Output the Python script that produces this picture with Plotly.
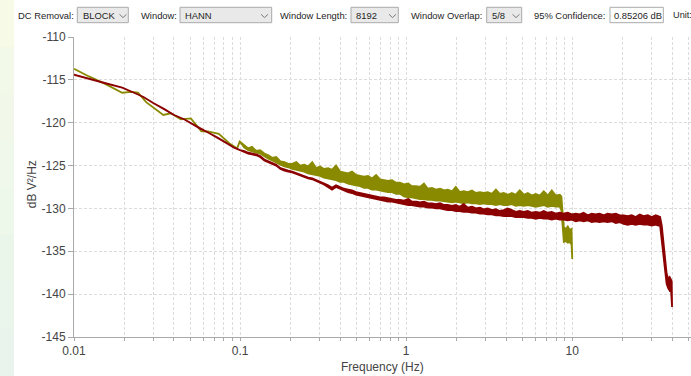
import plotly.graph_objects as go

# ---------------- data ----------------
# shared frequency grid for the noisy part (Hz)
band_freq = [0.106, 0.112, 0.118, 0.125, 0.132, 0.140, 0.148, 0.156, 0.165, 0.175,
             0.185, 0.195, 0.206, 0.218, 0.230, 0.243, 0.257, 0.272, 0.287, 0.303,
             0.320, 0.339, 0.358, 0.378, 0.400, 0.423, 0.447, 0.472, 0.499, 0.528,
             0.558, 0.590, 0.623, 0.659, 0.696, 0.736, 0.778, 0.822, 0.869, 0.918,
             0.970, 1.03, 1.08, 1.15, 1.21, 1.28, 1.35, 1.43, 1.51, 1.60,
             1.69, 1.78, 1.89, 1.99, 2.10, 2.22, 2.35, 2.49, 2.63, 2.78,
             2.93, 3.10, 3.28, 3.47, 3.66, 3.87, 4.09, 4.33, 4.57, 4.83,
             5.11, 5.40, 5.71, 6.03, 6.37, 6.74, 7.12, 7.53, 7.95, 8.41]

# olive series (dB V^2/Hz)
olive_freq_low = [0.0100, 0.0123, 0.0155, 0.0195, 0.0220, 0.0243, 0.0272, 0.0330, 0.0345,
                  0.0383, 0.0440, 0.0505, 0.0585, 0.0640, 0.0745, 0.0860, 0.0960, 0.0995]
olive_db_low = [-113.7, -114.6, -115.5, -116.5, -116.4, -116.5, -117.6, -118.8, -119.1,
                -118.9, -119.6, -119.5, -121.0, -121.0, -121.3, -122.4, -123.0, -122.2]
olive_hi_band = [-122.6, -123.0, -122.8, -123.3, -123.2, -123.6, -123.8, -124.1, -124.0, -124.5,
                 -124.6, -124.8, -124.8, -124.6, -125.0, -124.9, -125.1, -124.6, -125.3, -125.1,
                 -125.4, -125.3, -125.5, -125.0, -125.7, -125.8, -125.9, -125.7, -126.1, -126.2,
                 -126.3, -126.2, -126.5, -126.1, -126.6, -126.7, -126.8, -126.7, -127.0, -127.0,
                 -127.2, -127.1, -127.4, -127.4, -127.5, -127.1, -127.7, -127.6, -127.8, -127.7,
                 -127.9, -127.8, -128.0, -127.5, -128.1, -128.0, -128.1, -127.9, -128.2, -128.1,
                 -128.2, -128.1, -128.3, -127.8, -128.3, -128.2, -128.4, -128.2, -128.4, -127.9,
                 -128.4, -128.2, -128.5, -128.3, -128.5, -128.0, -128.5, -127.9, -128.5, -128.4]
olive_lo_band = [-122.9, -123.2, -123.3, -123.5, -123.6, -123.9, -124.2, -124.4, -124.6, -124.9,
                 -125.1, -125.2, -125.4, -125.5, -125.6, -125.7, -125.9, -126.0, -126.1, -126.2,
                 -126.4, -126.5, -126.6, -126.7, -126.9, -126.9, -127.1, -127.2, -127.3, -127.4,
                 -127.6, -127.6, -127.8, -127.8, -127.9, -128.0, -128.1, -128.1, -128.3, -128.3,
                 -128.6, -128.7, -128.7, -128.8, -128.9, -128.9, -129.0, -129.0, -129.1, -129.1,
                 -129.2, -129.2, -129.3, -129.2, -129.3, -129.4, -129.3, -129.4, -129.4, -129.5,
                 -129.4, -129.5, -129.5, -129.6, -129.5, -129.6, -129.6, -129.5, -129.7, -129.6,
                 -129.7, -129.6, -129.7, -129.8, -129.7, -129.6, -129.8, -129.7, -129.8, -129.8]
olive_freq_tail = [8.60, 8.75, 8.90, 9.15, 9.40, 9.65, 9.90, 10.0]
olive_hi_tail = [-128.6, -130.5, -132.2, -132.4, -132.1, -132.5, -132.4, -135.9]
olive_lo_tail = [-130.2, -132.0, -133.9, -133.8, -134.0, -133.9, -134.2, -135.9]

# dark red series (dB V^2/Hz)
red_freq_low = [0.0100, 0.0125, 0.0155, 0.0195, 0.0230, 0.0262, 0.0300, 0.0350, 0.0400,
                0.0460, 0.0520, 0.0575, 0.0650, 0.0740, 0.0830, 0.0920, 0.1000]
red_db_low = [-114.4, -114.9, -115.4, -115.9, -116.5, -117.0, -117.7, -118.4, -119.1,
              -119.6, -120.2, -120.7, -121.2, -121.8, -122.4, -122.9, -123.2]
red_hi_band = [-123.3, -123.5, -123.6, -123.7, -123.9, -124.3, -124.5, -124.7, -124.9, -125.3,
               -125.5, -125.6, -125.7, -125.9, -126.0, -126.2, -126.4, -126.5, -126.7, -126.9,
               -127.1, -127.3, -127.6, -127.3, -127.5, -127.7, -127.8, -127.9, -128.1, -128.2,
               -128.3, -128.4, -128.5, -128.6, -128.7, -128.7, -128.8, -128.9, -129.0, -129.0,
               -129.1, -128.9, -129.2, -129.2, -129.3, -129.2, -129.4, -129.4, -129.5, -129.4,
               -129.6, -129.6, -129.7, -129.6, -129.8, -129.5, -129.9, -129.8, -130.0, -129.9,
               -130.1, -130.0, -130.2, -130.1, -130.3, -130.2, -130.0, -130.2, -130.4, -130.3,
               -130.4, -130.3, -130.5, -130.4, -130.5, -130.3, -130.5, -130.4, -130.6, -130.5]
red_lo_band = [-123.4, -123.6, -123.7, -123.8, -124.0, -124.4, -124.6, -124.8, -125.0, -125.4,
               -125.6, -125.7, -125.8, -126.0, -126.1, -126.3, -126.5, -126.6, -126.8, -127.0,
               -127.2, -127.5, -127.8, -127.5, -127.7, -127.9, -128.1, -128.2, -128.4, -128.5,
               -128.6, -128.7, -128.8, -128.9, -129.0, -129.1, -129.2, -129.2, -129.3, -129.4,
               -129.5, -129.6, -129.6, -129.7, -129.8, -129.8, -129.9, -129.9, -130.0, -130.0,
               -130.1, -130.2, -130.2, -130.3, -130.3, -130.4, -130.4, -130.5, -130.5, -130.6,
               -130.6, -130.7, -130.7, -130.8, -130.8, -130.9, -130.9, -130.9, -131.0, -131.0,
               -131.0, -131.1, -131.1, -131.2, -131.1, -131.2, -131.2, -131.3, -131.2, -131.3]
red_freq_tail = [8.89, 9.39, 9.93, 10.5, 11.1, 11.7, 12.4, 13.1, 13.8, 14.6,
                 15.5, 16.3, 17.3, 18.3, 19.3, 20.4, 21.6, 22.8, 24.1, 25.5,
                 26.9, 28.5, 30.1, 31.8, 33.0, 33.8, 34.6, 35.4, 36.2, 37.0,
                 37.8, 38.6, 39.3, 39.7, 39.9]
red_hi_tail = [-130.6, -130.5, -130.7, -130.6, -130.7, -130.5, -130.8, -130.6, -130.7, -130.6,
               -130.8, -130.6, -130.7, -130.6, -130.8, -130.8, -130.9, -130.8, -131.0, -130.7,
               -130.9, -130.8, -131.0, -130.8, -130.9, -131.0, -132.0, -133.8, -135.8, -137.6,
               -138.2, -138.0, -138.3, -138.5, -141.5]
red_lo_tail = [-131.3, -131.4, -131.3, -131.5, -131.4, -131.5, -131.4, -131.6, -131.5, -131.6,
               -131.5, -131.6, -131.5, -131.7, -131.6, -131.8, -131.9, -131.8, -131.9, -131.8,
               -131.9, -131.9, -132.0, -131.9, -132.0, -132.0, -133.2, -135.2, -137.0, -138.8,
               -139.3, -139.6, -139.4, -139.6, -141.5]

# axes
x_ticks = [0.01, 0.1, 1, 10]
x_tick_labels = ["0.01", "0.1", "1", "10"]
x_minor_ticks = [0.02, 0.03, 0.04, 0.05, 0.06, 0.07, 0.08, 0.09,
                 0.2, 0.3, 0.4, 0.5, 0.6, 0.7, 0.8, 0.9,
                 2, 3, 4, 5, 6, 7, 8, 9, 20, 30, 40, 50]
y_ticks = [-145, -140, -135, -130, -125, -120, -115, -110]
y_tick_labels = ["-145", "-140", "-135", "-130", "-125", "-120", "-115", "-110"]

# toolbar texts
toolbar_labels = ["DC Removal:", "Window:", "Window Length:", "Window Overlap:", "95% Confidence:", "Unit:"]
toolbar_values = ["BLOCK", "HANN", "8192", "5/8", "0.85206 dB"]

# ---------------- figure ----------------
OLIVE = "#8A8A00"
RED = "#8B0000"
FONT = "Liberation Sans, Arial, sans-serif"

L, T, W, H = 74, 37, 617, 300


def px(x):
    return (x - L) / W


def py(y):
    return (T + H - y) / H


fig = go.Figure()


def add_band(f, hi, lo, color):
    fig.add_trace(go.Scatter(
        x=f + f[::-1], y=hi + lo[::-1], mode="lines", fill="toself",
        fillcolor=color, line=dict(color=color, width=1.8),
        hoverinfo="skip", showlegend=False))


olive_f = olive_freq_low + band_freq + olive_freq_tail
olive_hi = olive_db_low + olive_hi_band + olive_hi_tail
olive_lo = olive_db_low + olive_lo_band + olive_lo_tail
red_f = red_freq_low + band_freq + red_freq_tail
red_hi = red_db_low + red_hi_band + red_hi_tail
red_lo = red_db_low + red_lo_band + red_lo_tail

add_band(olive_f, olive_hi, olive_lo, OLIVE)
add_band(red_f, red_hi, red_lo, RED)

grid = dict(gridcolor="#DCDCDC", gridwidth=1, griddash="3px,2px")
axis_line = dict(showline=True, linecolor="#A9A9A9", linewidth=1, tickcolor="#A9A9A9", zeroline=False)

fig.update_layout(
    width=691, height=376,
    margin=dict(l=L, r=0, t=T, b=376 - T - H, pad=0),
    paper_bgcolor="white", plot_bgcolor="white",
    font=dict(family=FONT, size=12, color="#444444"),
    xaxis=dict(type="log", range=[-2, 1.715], tickmode="array", tickvals=x_ticks,
               ticktext=x_tick_labels, ticks="outside", ticklen=3, showgrid=True,
               minor=dict(tickmode="array", tickvals=x_minor_ticks, ticks="outside", ticklen=3,
                          tickcolor="#A9A9A9", showgrid=True, **grid),
               tickfont=dict(size=12, color="#444444"), **grid, **axis_line),
    yaxis=dict(range=[-145, -110], tickmode="array", tickvals=y_ticks, ticktext=y_tick_labels,
               ticks="outside", ticklen=5, showgrid=True,
               tickfont=dict(size=12, color="#444444"), **grid, **axis_line),
)

shapes = []
annotations = []

# left pale strip
strip_colors = ["#F6FAE7", "#F3F9E8", "#F1F8E9", "#EFF8EA", "#EDF7EA", "#EBF6EB", "#EAF6EC", "#E9F5EC"]
n = len(strip_colors)
for i, c in enumerate(strip_colors):
    shapes.append(dict(type="rect", xref="paper", yref="paper", x0=px(0), x1=px(14),
                       y0=py(376 * (i + 1) / n), y1=py(376 * i / n),
                       fillcolor=c, line=dict(width=0), layer="below"))

# toolbar boxes
boxes = [(77.3, 128.3, "#E9E9E9"), (180, 271.7, "#E9E9E9"), (351, 398.3, "#E9E9E9"),
         (486.7, 521.7, "#E9E9E9"), (610, 663.3, "#FFFFFF")]
for x0, x1, c in boxes:
    shapes.append(dict(type="rect", xref="paper", yref="paper", x0=px(x0), x1=px(x1),
                       y0=py(22.7), y1=py(7.3), fillcolor=c,
                       line=dict(color="#ABABAB", width=1), layer="above"))

# chevrons
for cx0, cx1 in [(119.5, 126.5), (261, 268), (389, 396), (512.5, 519.5)]:
    mid = (cx0 + cx1) / 2
    shapes.append(dict(type="path", xref="paper", yref="paper",
                       path=f"M {px(cx0)},{py(14.3)} L {px(mid)},{py(17.6)} L {px(cx1)},{py(14.3)}",
                       line=dict(color="#7A7A7A", width=1), layer="above"))

label_x = [16, 138.5, 277.5, 408.5, 531.5, 671]
label_size = [9.4, 9.4, 9.4, 9.4, 9.4, 9.2]
value_x = [80.5, 182.5, 354, 489.5, 612]
for t, x, s in zip(toolbar_labels, label_x, label_size):
    annotations.append(dict(text=t, x=px(x), y=py(15), xref="paper", yref="paper",
                            xanchor="left", yanchor="middle", showarrow=False,
                            font=dict(family=FONT, size=s, color="#1E1E1E")))
for t, x in zip(toolbar_values, value_x):
    annotations.append(dict(text=t, x=px(x), y=py(15), xref="paper", yref="paper",
                            xanchor="left", yanchor="middle", showarrow=False,
                            font=dict(family=FONT, size=9.4, color="#1E1E1E")))

# axis titles
annotations.append(dict(text="Frequency (Hz)", x=px(382), y=py(366.7), xref="paper", yref="paper",
                        xanchor="center", yanchor="middle", showarrow=False,
                        font=dict(family=FONT, size=12, color="#444444")))
annotations.append(dict(text="dB V²/Hz", x=px(31.7), y=py(184.5), xref="paper", yref="paper",
                        xanchor="center", yanchor="middle", showarrow=False, textangle=-90,
                        font=dict(family=FONT, size=12, color="#444444")))

fig.update_layout(shapes=shapes, annotations=annotations)

fig.write_html("out.html")
